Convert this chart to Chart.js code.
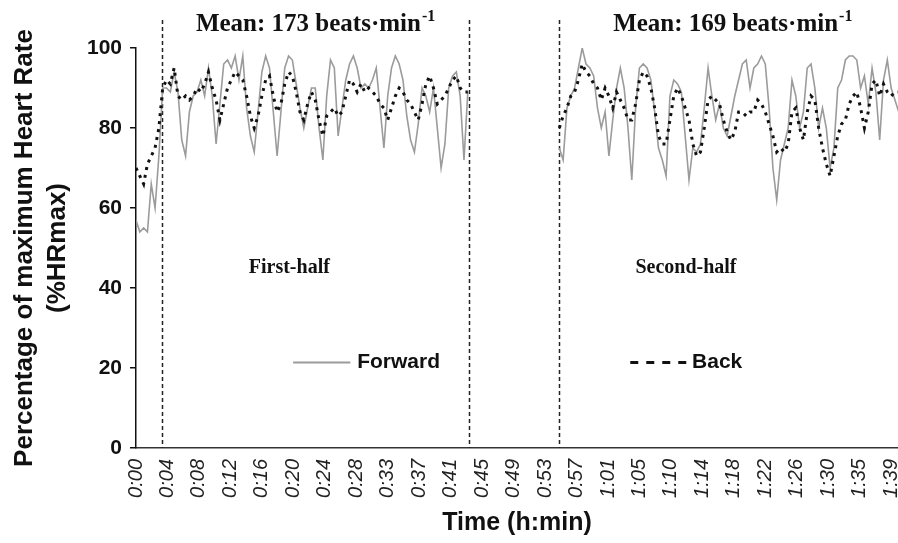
<!DOCTYPE html>
<html>
<head>
<meta charset="utf-8">
<title>%HRmax – Forward vs Back</title>
<script src="https://cdn.jsdelivr.net/npm/chart.js@4.4.1/dist/chart.umd.min.js"></script>
<style>
  html, body { margin: 0; padding: 0; background: #fff; }
</style>
</head>
<body>
<canvas id="hrChart" width="898" height="543"></canvas>
<script>
// time axis labels (h:min), one every TICK_STEP minutes
const timeLabels = ["0:00", "0:04", "0:08", "0:12", "0:16", "0:20", "0:24", "0:28", "0:33",
  "0:37", "0:41", "0:45", "0:49", "0:53", "0:57", "1:01", "1:05", "1:10", "1:14", "1:18",
  "1:22", "1:26", "1:30", "1:35", "1:39"];
const TICK_STEP = 4.125;
const yTicks = [0, 20, 40, 60, 80, 100];

// samples are every half minute
const SAMPLE_STEP = 0.5;
const firstHalfStart = 0;
const secondHalfStart = 55.5;
// start of first half, end of first half, start of second half (min)
const dividers = [3.35, 43.6, 55.4];
const halfMeans = [173, 169];

// %HRmax, first half
const forwardFirst = [57, 54, 55, 54, 66, 60, 73, 90,
  90, 89, 94, 89, 77, 73, 84, 88, 89, 92, 88, 95,
  88, 76, 86, 96, 97, 95, 98, 92, 98, 85,
  78, 74, 84, 94, 98, 95, 84, 73, 84, 95,
  98, 97, 91, 85, 80, 85, 90, 90, 80, 72,
  88, 97, 95, 78, 85, 92, 96, 98, 95, 90,
  91, 90, 92, 95, 85, 75, 88, 95, 98, 96,
  92, 83, 77, 74, 81, 90, 88, 84, 90, 80,
  70, 76, 90, 93, 94, 88, 72, 89];
const backFirst = [70, 68, 66, 71, 73, 75, 80, 90,
  92, 91, 95, 88, 87, 88, 87, 88, 90, 89, 91, 94,
  90, 87, 82, 86, 90, 92, 94, 93, 92, 88,
  83, 80, 83, 88, 92, 93, 88, 84, 86, 91,
  94, 93, 89, 84, 82, 86, 89, 87, 82, 78,
  83, 84, 85, 83, 84, 88, 92, 91, 89, 91,
  89, 90, 89, 88, 86, 85, 82, 85, 88, 90,
  89, 87, 86, 84, 82, 86, 91, 93, 90, 86,
  87, 88, 90, 92, 93, 90, 89, 89];

// %HRmax, second half
const forwardSecond = [75, 72, 85, 88, 90, 95, 100, 96, 95,
  93, 85, 80, 84, 73, 82, 90, 95, 90, 80,
  67, 85, 95, 96, 95, 92, 84, 75, 72, 68,
  88, 92, 91, 89, 78, 67, 75, 74, 76, 85,
  95, 88, 82, 86, 80, 78, 83, 88, 92, 96,
  97, 90, 95, 96, 98, 96, 85, 70, 62, 72,
  76, 80, 92, 88, 80, 84, 95, 96, 90, 80,
  85, 80, 70, 75, 90, 92, 97, 98, 98, 97,
  90, 93, 86, 95, 89, 77, 92, 97, 90, 87,
  84];
const backSecond = [80, 83, 85, 88, 89, 92, 96, 94, 93,
  91, 90, 87, 90, 88, 85, 89, 87, 85, 82,
  82, 86, 92, 94, 93, 90, 85, 78, 76, 76,
  82, 88, 90, 88, 85, 82, 76, 73, 74, 80,
  87, 88, 87, 86, 82, 79, 77, 79, 84, 84,
  83, 84, 84, 87, 86, 84, 81, 78, 74, 75,
  74, 76, 84, 85, 80, 77, 84, 88, 87, 80,
  75, 71, 68, 73, 78, 81, 82, 86, 88, 89,
  85, 80, 84, 91, 92, 88, 91, 89, 88, 89,
  89];

function toPoints(start, values) {
  return values.map((v, i) => ({ x: start + i * SAMPLE_STEP, y: v }));
}

// half-time break: null point so the line is not joined across it
function bothHalves(first, second) {
  return [...toPoints(firstHalfStart, first), { x: 49, y: null }, ...toPoints(secondHalfStart, second)];
}

const SANS = '"Liberation Sans", Arial, sans-serif';
const SERIF = '"Liberation Serif", "Times New Roman", serif';

function drawMean(ctx, cx, baseline, value) {
  const main = `Mean: ${value} beats·min`;
  ctx.font = `bold 25px ${SERIF}`;
  const w1 = ctx.measureText(main).width;
  ctx.font = `bold 16px ${SERIF}`;
  const w2 = ctx.measureText("-1").width;
  const left = cx - (w1 + w2) / 2;
  ctx.textAlign = "left";
  ctx.textBaseline = "alphabetic";
  ctx.font = `bold 25px ${SERIF}`;
  ctx.fillText(main, left, baseline);
  ctx.font = `bold 16px ${SERIF}`;
  ctx.fillText("-1", left + w1 + 1, baseline - 10);
}

const annotations = {
  id: "annotations",
  beforeDatasetsDraw(chart) {
    const { ctx, scales: { x, y } } = chart;
    ctx.save();
    ctx.strokeStyle = "#222";
    ctx.lineWidth = 1.5;
    ctx.setLineDash([4, 3]);
    dividers.forEach((m) => {
      const px = Math.round(x.getPixelForValue(m)) + 0.5;
      ctx.beginPath();
      ctx.moveTo(px, y.getPixelForValue(107));
      ctx.lineTo(px, y.getPixelForValue(0));
      ctx.stroke();
    });
    ctx.restore();
  },
  afterDraw(chart) {
    const { ctx, scales: { x, y } } = chart;
    ctx.save();
    ctx.fillStyle = "#111";

    // mean HR over each half
    drawMean(ctx, x.getPixelForValue((dividers[0] + dividers[1]) / 2), y.getPixelForValue(104.2), halfMeans[0]);
    drawMean(ctx, x.getPixelForValue((dividers[2] + x.max) / 2) + 4, y.getPixelForValue(104.2), halfMeans[1]);

    ctx.font = `bold 20px ${SERIF}`;
    ctx.textAlign = "center";
    ctx.textBaseline = "middle";
    ctx.fillText("First-half", x.getPixelForValue(20.1), y.getPixelForValue(45));
    ctx.fillText("Second-half", x.getPixelForValue(72.1), y.getPixelForValue(45));

    // legend
    const ly = Math.round(y.getPixelForValue(21.5)) + 0.5;
    ctx.strokeStyle = "#9b9b9b";
    ctx.lineWidth = 2;
    ctx.beginPath();
    ctx.moveTo(x.getPixelForValue(20.6), ly);
    ctx.lineTo(x.getPixelForValue(28.1), ly);
    ctx.stroke();
    ctx.strokeStyle = "#111";
    ctx.lineWidth = 3;
    ctx.setLineDash([8, 8]);
    ctx.beginPath();
    ctx.moveTo(x.getPixelForValue(64.8), ly);
    ctx.lineTo(x.getPixelForValue(72.3), ly);
    ctx.stroke();
    ctx.setLineDash([]);

    ctx.font = `bold 21px ${SANS}`;
    ctx.textAlign = "left";
    ctx.fillText("Forward", x.getPixelForValue(29.0), ly);
    ctx.fillText("Back", x.getPixelForValue(72.9), ly);
    ctx.restore();
  }
};

const ctx = document.getElementById("hrChart").getContext("2d");
const hrChart = new Chart(ctx, {
  type: "line",
  data: {
    datasets: [
      {
        label: "Forward",
        data: bothHalves(forwardFirst, forwardSecond),
        borderColor: "#9b9b9b",
        borderWidth: 1.6,
        pointRadius: 0,
        tension: 0,
        order: 2
      },
      {
        label: "Back",
        data: bothHalves(backFirst, backSecond),
        borderColor: "#111",
        borderWidth: 3,
        borderDash: [3, 5],
        pointRadius: 0,
        tension: 0,
        order: 1
      }
    ]
  },
  options: {
    responsive: false,
    animation: false,
    layout: { padding: { top: 48, right: 0, bottom: 0, left: 0 } },
    plugins: {
      legend: { display: false },
      tooltip: { enabled: false }
    },
    scales: {
      x: {
        type: "linear",
        min: 0,
        max: 99.9,
        grid: { display: false, drawTicks: false },
        border: { display: true, color: "#333", width: 1.5 },
        afterBuildTicks: (scale) => {
          scale.ticks = timeLabels.map((_, i) => ({ value: i * TICK_STEP }));
        },
        afterFit: (scale) => {
          scale.height = 95;
          scale.paddingLeft = 0;
          scale.paddingRight = 0;
        },
        ticks: {
          autoSkip: false,
          minRotation: 90,
          maxRotation: 90,
          padding: 11,
          color: "#222",
          font: { family: SANS, size: 20, style: "italic" },
          callback: (value, index) => timeLabels[index]
        },
        title: {
          display: true,
          text: "Time (h:min)",
          color: "#111",
          font: { family: SANS, size: 25, weight: "bold" },
          padding: { top: 0, bottom: 5 }
        }
      },
      y: {
        min: 0,
        max: 100,
        afterBuildTicks: (scale) => {
          scale.ticks = yTicks.map((v) => ({ value: v }));
        },
        afterFit: (scale) => {
          scale.width = 136;
          scale.paddingTop = 0;
          scale.paddingBottom = 0;
        },
        grid: {
          drawOnChartArea: false,
          drawTicks: true,
          tickLength: 6,
          color: "#111",
          lineWidth: 1.5
        },
        border: { display: true, color: "#111", width: 1.5 },
        ticks: {
          padding: 8,
          color: "#111",
          font: { family: SANS, size: 21, weight: "bold" }
        },
        title: {
          display: true,
          text: ["Percentage of maximum Heart Rate", "(%HRmax)"],
          color: "#111",
          font: { family: SANS, size: 26, weight: "bold", lineHeight: 1.25 },
          padding: { top: 9, bottom: 0 }
        }
      }
    }
  },
  plugins: [annotations]
});
</script>
</body>
</html>
